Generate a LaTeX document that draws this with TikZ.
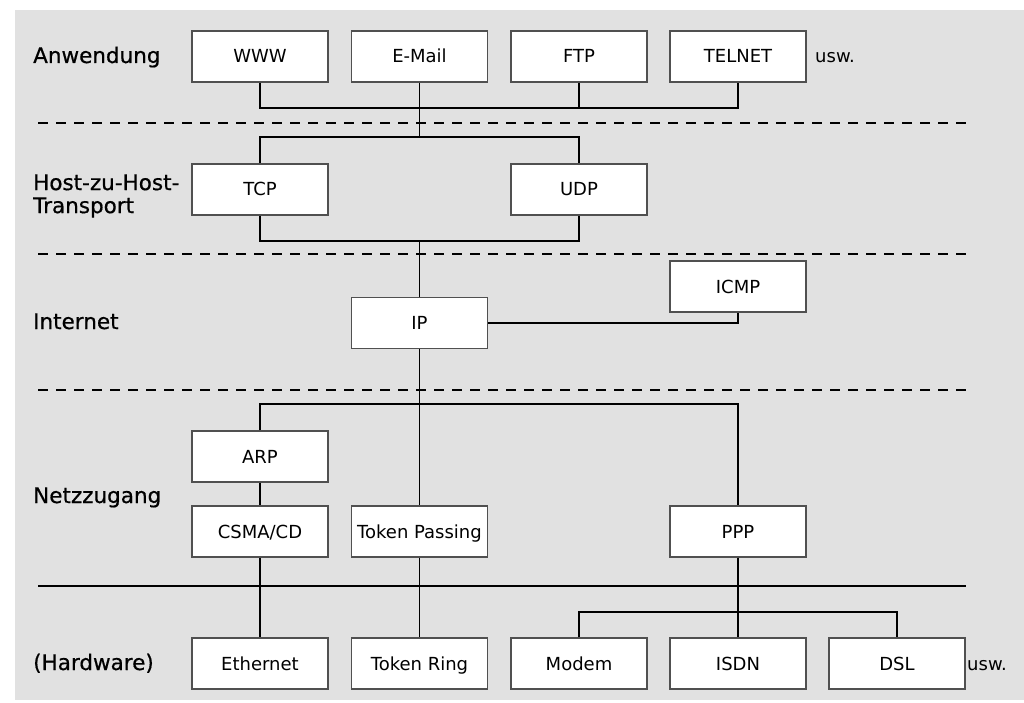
\documentclass[tikz,border=0pt]{standalone}
\usepackage{fontspec}
\setmainfont{DejaVu Sans}
\newfontfamily\labelfont[FakeBold=0.6]{DejaVu Sans}
\definecolor{bg}{HTML}{E1E1E1}
\definecolor{boxline}{HTML}{505050}
\begin{document}
\begin{tikzpicture}[x=1pt,y=-1pt,
  box/.style={draw=boxline,line width=1.2pt,fill=white,minimum width=136pt,minimum height=51pt,
    inner sep=0pt,text height=13pt,text depth=0pt,font=\fontsize{18}{20}\selectfont},
  lbl/.style={anchor=base west,inner sep=0pt,font=\labelfont\fontsize{21.5}{24}\selectfont},
  etc/.style={anchor=base west,inner sep=0pt,font=\fontsize{18}{20}\selectfont},
  conn/.style={line width=1.6pt,black},
  sep/.style={line width=1.6pt,black,dash pattern=on 10pt off 8pt},
  solidsep/.style={line width=1.6pt,black}]
\useasboundingbox (0,0) rectangle (1024,703);
\fill[white] (0,0) rectangle (1024,703);
\fill[bg] (15,10) rectangle (1024,700);

% separators
\coordinate (s1l) at (38,123); \coordinate (s1r) at (966,123);
\coordinate (s2l) at (38,254); \coordinate (s2r) at (966,254);
\coordinate (s3l) at (38,390); \coordinate (s3r) at (966,390);
\coordinate (s4l) at (38,586); \coordinate (s4r) at (966,586);
\draw[sep] (s1l) -- (s1r);
\draw[sep] (s2l) -- (s2r);
\draw[sep] (s3l) -- (s3r);
\draw[solidsep] (s4l) -- (s4r);

% layer labels
\node[lbl] (lapp) at (33,63) {Anwendung};
\node[lbl,anchor=west,align=left,font=\labelfont\fontsize{21.5}{23}\selectfont] (ltrans) at (33,196) {Host-zu-Host-\\Transport};
\node[lbl] (linet) at (33,329) {Internet};
\node[lbl] (lnet) at (33,503) {Netzzugang};
\node[lbl] (lhw) at (33,670) {(Hardware)};

% bus points
\coordinate (b1l) at (260,108); \coordinate (b1r) at (738,108);
\coordinate (b2l) at (260,137); \coordinate (b2r) at (579,137);
\coordinate (b3l) at (260,241); \coordinate (b3r) at (579,241);
\coordinate (b4l) at (260,404); \coordinate (b4r) at (738,404);
\coordinate (b5l) at (579,612); \coordinate (b5r) at (897,612);

% boxes
\node[box] (www) at (260,56.5) {WWW};
\node[box] (mail) at (419.5,56.5) {E-Mail};
\node[box] (ftp) at (579,56.5) {FTP};
\node[box] (telnet) at (738,56.5) {TELNET};
\node[etc] (usw1) at (815,63) {usw.};

\node[box] (tcp) at (260,189.5) {TCP};
\node[box] (udp) at (579,189.5) {UDP};

\node[box] (ip) at (419.5,323) {IP};
\node[box] (icmp) at (738,286.5) {ICMP};

\node[box] (arp) at (260,456.5) {ARP};
\node[box] (csma) at (260,531.5) {CSMA/CD};
\node[box] (tpass) at (419.5,531.5) {Token Passing};
\node[box] (ppp) at (738,531.5) {PPP};

\node[box] (eth) at (260,663.5) {Ethernet};
\node[box] (tring) at (419.5,663.5) {Token Ring};
\node[box] (modem) at (579,663.5) {Modem};
\node[box] (isdn) at (738,663.5) {ISDN};
\node[box] (dsl) at (897,663.5) {DSL};
\node[etc] (usw2) at (967,670) {usw.};

% application to transport
\draw[conn] (www.south) -- (b1l) -- (b1r) -- (telnet.south);
\draw[conn] (ftp.south) -- (ftp.south |- b1l);
\draw[conn] (mail.south) -- (mail.south |- b2l);
\draw[conn] (tcp.north) -- (b2l) -- (b2r) -- (udp.north);
% transport to internet
\draw[conn] (tcp.south) -- (b3l) -- (b3r) -- (udp.south);
\draw[conn] (ip.north |- b3l) -- (ip.north);
\draw[conn] (ip.east) -| (icmp.south);
% internet to network access
\draw[conn] (ip.south) -- (tpass.north);
\draw[conn] (arp.north) -- (b4l) -- (b4r) -- (ppp.north);
\draw[conn] (arp.south) -- (csma.north);
% network access to hardware
\draw[conn] (csma.south) -- (eth.north);
\draw[conn] (tpass.south) -- (tring.north);
\draw[conn] (ppp.south) -- (isdn.north);
\draw[conn] (modem.north) -- (b5l) -- (b5r) -- (dsl.north);
\end{tikzpicture}
\end{document}
